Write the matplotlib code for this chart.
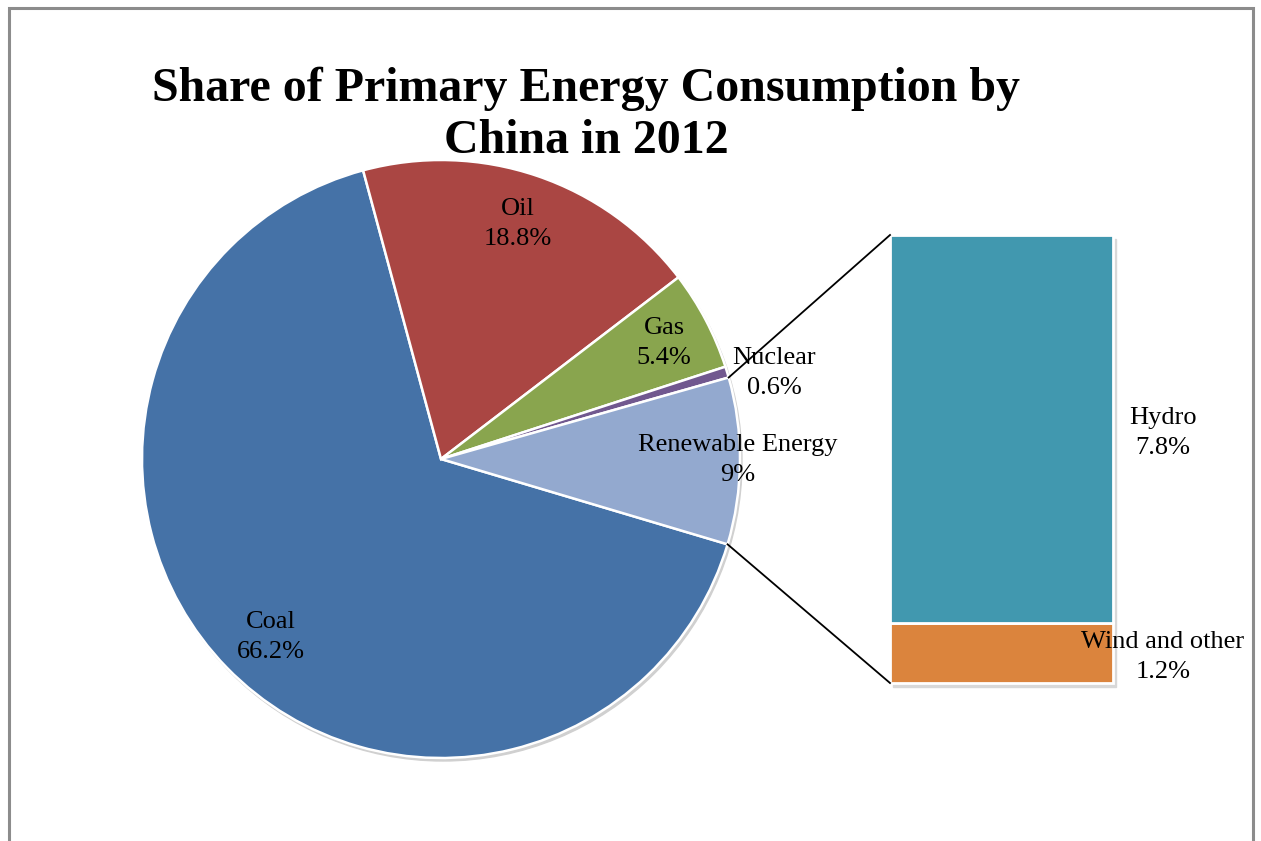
import numpy as np
import matplotlib
matplotlib.use("Agg")
import matplotlib.pyplot as plt
from matplotlib.patches import Rectangle

# Data
pie_labels = ["Coal", "Oil", "Gas", "Nuclear", "Renewable Energy"]
pie_values = [66.2, 18.8, 5.4, 0.6, 9.0]
pie_value_text = ["66.2%", "18.8%", "5.4%", "0.6%", "9%"]
pie_colors = ["#4572A7", "#AA4643", "#89A54E", "#71588F", "#93A9CF"]

bar_labels = ["Wind and other", "Hydro"]
bar_values = [1.2, 7.8]
bar_value_text = ["1.2%", "7.8%"]
bar_colors = ["#DB843D", "#4198AF"]

title = "Share of Primary Energy Consumption by\nChina in 2012"

W, H = 1261, 841
fig = plt.figure(figsize=(W / 100, H / 100), dpi=100)
ax = fig.add_axes([0, 0, 1, 1])
ax.set_xlim(0, W)
ax.set_ylim(0, H)
ax.set_aspect("equal")
ax.axis("off")

serif = ["Liberation Serif", "DejaVu Serif"]

# frame
ax.add_patch(Rectangle((9, -10), 1244, H - 8 + 10, fill=False, edgecolor="#8c8c8c", lw=2.2))

# pie
cx, cy, R = 441, 382, 299
start = 105.1 + 360 * pie_values[0] / 100
# shadow
ax.add_patch(plt.Circle((cx + 2, cy - 3), R, color="#d0d0d0", zorder=1))
wedges, _ = ax.pie(pie_values, colors=pie_colors, startangle=start, counterclock=False,
                   center=(cx, cy), radius=R, frame=True,
                   wedgeprops=dict(edgecolor="white", linewidth=1.8, zorder=2))
ax.set_xlim(0, W)
ax.set_ylim(0, H)
ax.axis("off")

label_pos = {"Coal": (271, 637), "Oil": (518, 224), "Gas": (664, 343),
             "Nuclear": (774, 373), "Renewable Energy": (738, 460)}
for name, vt in zip(pie_labels, pie_value_text):
    x, y = label_pos[name]
    ax.text(x, H - y, f"{name}\n{vt}", ha="center", va="center", fontsize=19,
            family=serif, linespacing=1.48, zorder=5)

# renewable wedge angles for connectors
ren = wedges[4]
a1, a2 = np.deg2rad(ren.theta1), np.deg2rad(ren.theta2)

# bar of pie
bx0, bw = 890, 223
btop_px, bbot_px = 235, 683
scale = (bbot_px - btop_px) / sum(bar_values)
bottom = H - bbot_px
ax.add_patch(Rectangle((bx0 + 3, bottom - 4), bw, (bbot_px - btop_px), color="#d8d8d8", zorder=1))
b = bottom
bar_lab_pos = {"Hydro": (1163, 433), "Wind and other": (1163, 657)}
for name, v, vt, c in zip(bar_labels, bar_values, bar_value_text, bar_colors):
    ax.bar(bx0 + bw / 2, v * scale, width=bw, bottom=b, color=c, edgecolor="white",
           linewidth=2, zorder=3)
    b += v * scale
    x, y = bar_lab_pos[name]
    ax.text(x, H - y, f"{name}\n{vt}", ha="center", va="center", fontsize=19,
            family=serif, linespacing=1.48, zorder=5)

# connector lines
p_top = (cx + R * np.cos(a2), cy + R * np.sin(a2))
p_bot = (cx + R * np.cos(a1), cy + R * np.sin(a1))
ax.plot([p_top[0], bx0], [p_top[1], H - btop_px], color="black", lw=1.3, zorder=4)
ax.plot([p_bot[0], bx0], [p_bot[1], H - bbot_px], color="black", lw=1.3, zorder=4)

# title
ax.text(586, H - 115, title, ha="center", va="center", fontsize=34.5, fontweight="bold",
        family=serif, linespacing=1.24, zorder=5)

fig.savefig("out.png", dpi=100)
